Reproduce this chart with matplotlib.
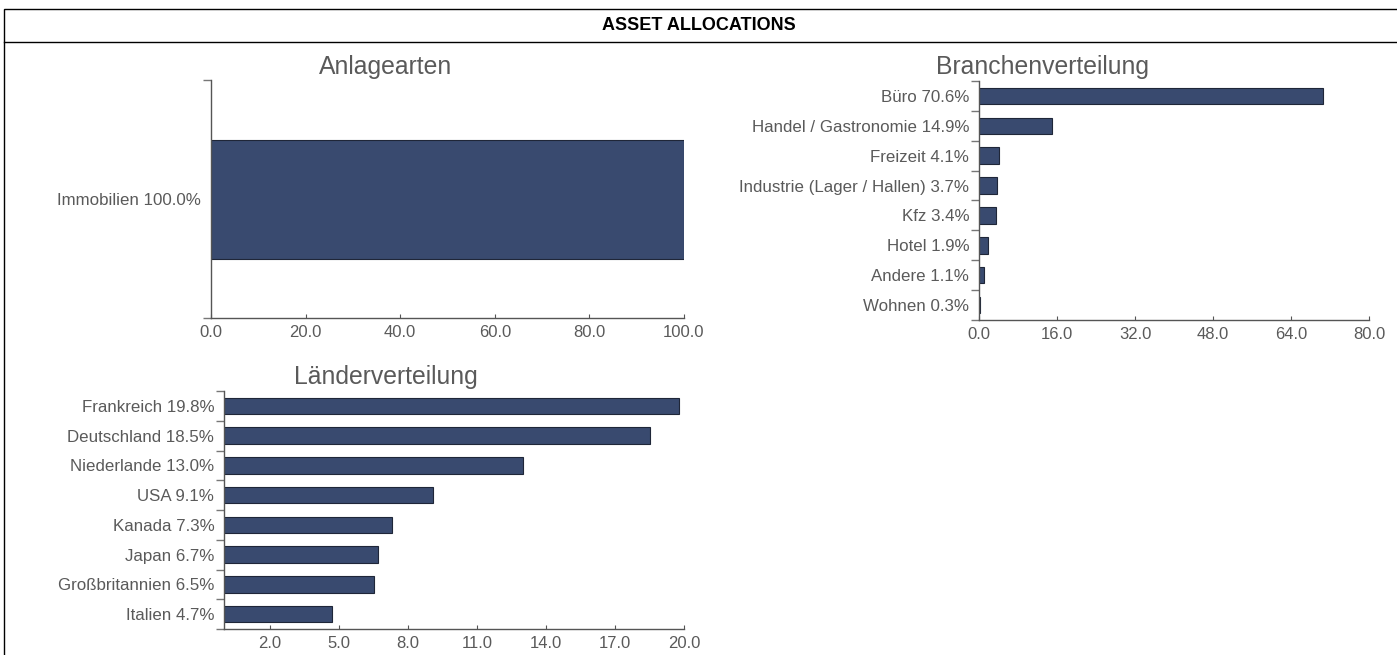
import numpy as np
import matplotlib
matplotlib.use("Agg")
import matplotlib.pyplot as plt
from matplotlib.patches import Rectangle
from matplotlib.lines import Line2D

# data
anlage_labels = ["Immobilien"]
anlage_vals = [100.0]

branche_labels = ["Büro", "Handel / Gastronomie", "Freizeit", "Industrie (Lager / Hallen)",
                  "Kfz", "Hotel", "Andere", "Wohnen"]
branche_vals = [70.6, 14.9, 4.1, 3.7, 3.4, 1.9, 1.1, 0.3]

laender_labels = ["Frankreich", "Deutschland", "Niederlande", "USA", "Kanada",
                  "Japan", "Großbritannien", "Italien"]
laender_vals = [19.8, 18.5, 13.0, 9.1, 7.3, 6.7, 6.5, 4.7]

anlage_ticks = [0, 20, 40, 60, 80, 100]
branche_ticks = [0, 16, 32, 48, 64, 80]
laender_ticks = [2, 5, 8, 11, 14, 17, 20]

BAR = "#394a6f"
EDGE = "#1f2638"
TXT = "#5a5a5a"
SPINE = "#555555"

plt.rcParams["font.family"] = ["Liberation Sans", "DejaVu Sans"]

W, H = 1397, 655
fig = plt.figure(figsize=(W / 100, H / 100), dpi=100)


def box(x0, y0, x1, y1):
    # pixel box (top-left origin) -> figure fraction rect
    return [x0 / W, 1 - y1 / H, (x1 - x0) / W, (y1 - y0) / H]


def barh(ax, labels, vals, xmax, ticks, height):
    n = len(vals)
    y = np.arange(n)
    ax.barh(y, vals, height=height, color=BAR, edgecolor=EDGE, linewidth=0.8)
    ax.set_ylim(n - 0.5, -0.5)
    ax.set_xlim(0, xmax)
    ax.set_xticks(ticks)
    ax.set_xticklabels([f"{t:.1f}" for t in ticks])
    ax.set_yticks(np.arange(n + 1) - 0.5)
    ax.set_yticklabels([])
    ax.set_yticks(y, minor=True)
    ax.set_yticklabels([f"{l} {v:.1f}%" for l, v in zip(labels, vals)], minor=True)
    ax.tick_params(axis="y", which="major", length=6, color="#777777", width=1, direction="out")
    ax.tick_params(axis="y", which="minor", length=0, pad=7, labelsize=12.2, labelcolor=TXT)
    ax.tick_params(axis="x", length=3, direction="in", color=SPINE, labelsize=12,
                   labelcolor=TXT, pad=5)
    for s in ("top", "right"):
        ax.spines[s].set_visible(False)
    for s in ("left", "bottom"):
        ax.spines[s].set_color(SPINE)
        ax.spines[s].set_linewidth(1)


ax1 = fig.add_axes(box(211, 80, 684, 318))
barh(ax1, anlage_labels, anlage_vals, 100, anlage_ticks, 0.5)

ax2 = fig.add_axes(box(979, 81, 1369, 320))
barh(ax2, branche_labels, branche_vals, 80, branche_ticks, 0.55)

ax3 = fig.add_axes(box(224, 391, 684, 629))
barh(ax3, laender_labels, laender_vals, 20, laender_ticks, 0.55)

# panel titles
fig.text(386 / W, 1 - 67 / H, "Anlagearten", ha="center", va="center", fontsize=17.8, color=TXT)
fig.text(1043 / W, 1 - 67 / H, "Branchenverteilung", ha="center", va="center", fontsize=17.8, color=TXT)
fig.text(386 / W, 1 - 377 / H, "Länderverteilung", ha="center", va="center", fontsize=17.8, color=TXT)

# frame and header
fig.add_artist(Rectangle((4 / W, -0.1), 1.1, 1 - 9 / H + 0.1, transform=fig.transFigure,
                         fill=False, edgecolor="black", linewidth=1))
fig.add_artist(Line2D([4 / W, 1], [1 - 42 / H, 1 - 42 / H], transform=fig.transFigure,
                      color="black", linewidth=1))
fig.text(0.5, 1 - 25 / H, "ASSET ALLOCATIONS", ha="center", va="center",
         fontsize=13, fontweight="bold", color="black")

fig.savefig("out.png", dpi=100)
